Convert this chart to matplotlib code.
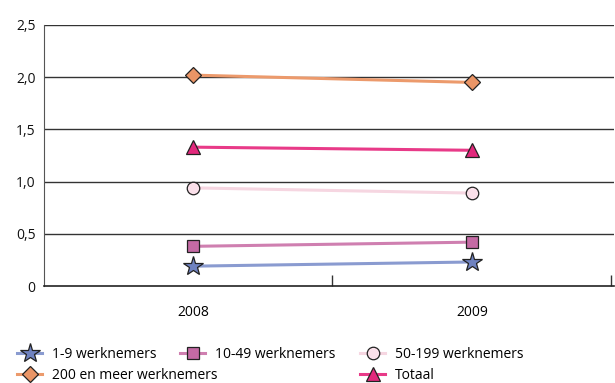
import matplotlib
matplotlib.use("Agg")
import matplotlib.pyplot as plt

plt.rcParams["font.family"] = ["Open Sans", "DejaVu Sans"]

years = ["2008", "2009"]
series_names = ["1-9 werknemers", "10-49 werknemers", "50-199 werknemers",
                "200 en meer werknemers", "Totaal"]
v_1_9 = [0.19, 0.23]
v_10_49 = [0.38, 0.42]
v_50_199 = [0.94, 0.89]
v_200 = [2.02, 1.95]
v_totaal = [1.33, 1.30]
y_ticks = [0, 0.5, 1.0, 1.5, 2.0, 2.5]
y_ticklabels = ["0", "0,5", "1,0", "1,5", "2,0", "2,5"]

styles = [
    (v_1_9, "*", "#6f82c0", "#8a9bd0", 15),
    (v_10_49, "s", "#c46aa4", "#cf7fb0", 8),
    (v_50_199, "o", "#fbe0ea", "#f6d6e1", 9),
    (v_200, "D", "#ea9566", "#ec9a6c", 8),
    (v_totaal, "^", "#e2287c", "#e83a88", 10),
]

fig = plt.figure(figsize=(6.15, 3.83), dpi=100)
ax = fig.add_axes([44 / 615, 1 - 286 / 383, 1 - 44 / 615 - 0.002, 261 / 383])

x = [0, 1]
handles = []
for (vals, mk, fc, lc, ms), name in zip(styles, series_names):
    (h,) = ax.plot(x, vals, color=lc, lw=2.2, marker=mk, markersize=ms,
                   markerfacecolor=fc, markeredgecolor="#222222",
                   markeredgewidth=0.9, label=name, zorder=3)
    handles.append(h)

ax.set_ylim(0, 2.5)
ax.set_xlim(-0.534, 1.509)
ax.set_yticks(y_ticks)
ax.set_yticklabels(y_ticklabels)
ax.tick_params(axis="y", length=0, pad=6, labelsize=10, colors="#111111")
for yv in y_ticks[1:]:
    ax.axhline(yv, color="#333333", lw=1.0, zorder=1)

ax.set_xticks(x)
ax.set_xticklabels(years)
ax.tick_params(axis="x", which="major", length=0, pad=14, labelsize=10)
ax.set_xticks([0.5, 1.5], minor=True)
ax.tick_params(axis="x", which="minor", direction="in", length=8,
               width=1, color="#333333")

for side in ["top", "right"]:
    ax.spines[side].set_visible(False)
ax.spines["left"].set_color("#555555")
ax.spines["bottom"].set_color("#222222")
ax.spines["bottom"].set_linewidth(1.2)

leg_kw = dict(frameon=False, fontsize=10, handlelength=1.8,
              handletextpad=0.7, labelspacing=0.45, borderaxespad=0,
              borderpad=0, loc="upper left")
top = 1 - 347 / 383
fig.legend(handles=[handles[0], handles[3]], bbox_to_anchor=(17 / 615, top), **leg_kw)
fig.legend(handles=[handles[1]], bbox_to_anchor=(180 / 615, top), **leg_kw)
fig.legend(handles=[handles[2], handles[4]], bbox_to_anchor=(360 / 615, top), **leg_kw)

fig.savefig("out.png", dpi=100)
